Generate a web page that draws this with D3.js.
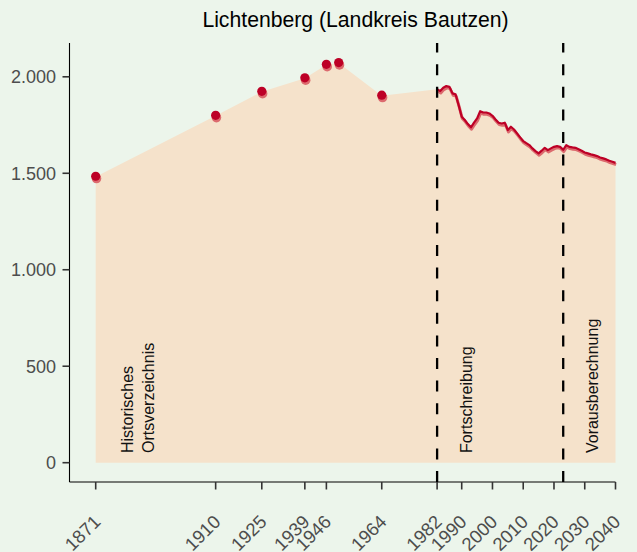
<!DOCTYPE html>
<html>
<head>
<meta charset="utf-8">
<script src="https://cdn.jsdelivr.net/npm/d3@7"></script>
<style>
    body { margin: 0; background: #ecf5eb; }
    #chart-area { width: 637px; height: 552px; }
    text { font-family: "Liberation Sans", Arial, Helvetica, sans-serif; }
</style>
</head>
<body>
<div id="chart-area"></div>
<script>

// Historical census (Historisches Ortsverzeichnis)
var histYears = [1871, 1910, 1925, 1939, 1946, 1950, 1964];
var histValues = [1482, 1798, 1922, 1992, 2062, 2071, 1902];

// Yearly update (Fortschreibung) and projection (Vorausberechnung)
var annualYears = [1982, 1983, 1984, 1985, 1986, 1987, 1988, 1989, 1990, 1991,
    1992, 1993, 1994, 1995, 1996, 1997, 1998, 1999, 2000, 2001,
    2002, 2003, 2004, 2005, 2006, 2007, 2008, 2009, 2010, 2011,
    2012, 2013, 2014, 2015, 2016, 2017, 2018, 2019, 2020, 2021,
    2022, 2023, 2024, 2025, 2026, 2027, 2028, 2029, 2030, 2031,
    2032, 2033, 2034, 2035, 2036, 2037, 2038, 2039, 2040];
var annualValues = [1936, 1926, 1943, 1952, 1948, 1914, 1909, 1853, 1793, 1776,
    1755, 1738, 1762, 1784, 1822, 1815, 1815, 1810, 1798, 1779,
    1762, 1758, 1762, 1724, 1741, 1727, 1707, 1686, 1667, 1656,
    1646, 1629, 1615, 1603, 1617, 1632, 1620, 1629, 1637, 1641,
    1637, 1622, 1646, 1637, 1634, 1632, 1625, 1617, 1608, 1603,
    1598, 1594, 1589, 1582, 1577, 1572, 1565, 1560, 1554];

// Axis ticks
var xTickYears = [1871, 1910, 1925, 1939, 1946, 1964, 1982, 1990, 2000, 2010, 2020, 2030, 2040];
var yTickValues = [0, 500, 1000, 1500, 2000];

// Source sections
var sectionYears = [1871, 1982, 2023];
var sectionLabels = [["Historisches", "Ortsverzeichnis"], ["Fortschreibung"], ["Vorausberechnung"]];
var dividerYears = [1982, 2023];

var chartTitle = "Lichtenberg (Landkreis Bautzen)";


PopVis = function(_parentElement) {
    this.parentElement = _parentElement;
    this.displayData = [];

    this.initVis();
};

/* INITIALIZE VISUALIZATION */
PopVis.prototype.initVis = function() {
    var vis = this;

    vis.width = 637;
    vis.height = 552;

    vis.svg = d3.select("#" + vis.parentElement).append("svg")
        .attr("width", vis.width)
        .attr("height", vis.height);

    // Scales
    vis.x = d3.scaleLinear()
        .domain([1871, 2040])
        .range([95.7, 615.5]);

    vis.y = d3.scaleLinear()
        .domain([0, 2000])
        .range([462.7, 76.8]);

    vis.panelLeft = 69.5;
    vis.panelTop = vis.y(2175);
    vis.panelBottom = vis.y(-100);

    vis.de = d3.formatLocale({ decimal: ",", thousands: ".", grouping: [3], currency: ["", " €"] });

    vis.wrangleData();
};

PopVis.prototype.wrangleData = function() {
    var vis = this;

    vis.histData = histYears.map(function(d, i) {
        return { year: d, value: histValues[i] };
    });
    vis.annualData = annualYears.map(function(d, i) {
        return { year: d, value: annualValues[i] };
    });
    vis.displayData = vis.histData.concat(vis.annualData);

    vis.updateVis();
};

PopVis.prototype.updateVis = function() {
    var vis = this;

    // Area under everything
    var area = d3.area()
        .x(function(d) { return vis.x(d.year); })
        .y0(vis.y(0))
        .y1(function(d) { return vis.y(d.value); });

    vis.svg.append("path")
        .datum(vis.displayData)
        .attr("fill", "#f5e2cb")
        .attr("d", area);

    // Annual line with a soft shadow
    var line = d3.line()
        .x(function(d) { return vis.x(d.year); })
        .y(function(d) { return vis.y(d.value); });

    vis.svg.append("path")
        .datum(vis.annualData)
        .attr("fill", "none")
        .attr("stroke", "#dc6a6e")
        .attr("stroke-width", 3)
        .attr("stroke-linejoin", "round")
        .attr("transform", "translate(0.6,1.8)")
        .attr("d", line);

    vis.svg.append("path")
        .datum(vis.annualData)
        .attr("fill", "none")
        .attr("stroke", "#bd0026")
        .attr("stroke-width", 2.2)
        .attr("stroke-linejoin", "round")
        .attr("d", line);

    // Census points
    var pts = vis.svg.append("g").selectAll("g")
        .data(vis.histData)
        .enter().append("g")
        .attr("transform", function(d) {
            return "translate(" + vis.x(d.year) + "," + vis.y(d.value) + ")";
        });
    pts.append("circle")
        .attr("cx", 0.8).attr("cy", 1.8).attr("r", 4.8)
        .attr("fill", "#dc6a6e");
    pts.append("circle")
        .attr("cx", 0).attr("cy", -0.5).attr("r", 4.6)
        .attr("fill", "#bd0026");

    // Dashed dividers, drawn from the bottom up
    vis.svg.selectAll(".divider")
        .data(dividerYears)
        .enter().append("line")
        .attr("class", "divider")
        .attr("x1", function(d) { return vis.x(d); })
        .attr("x2", function(d) { return vis.x(d); })
        .attr("y1", vis.panelBottom)
        .attr("y2", vis.panelTop)
        .attr("stroke", "#000")
        .attr("stroke-width", 2.3)
        .attr("stroke-dasharray", "11,11.6");

    // Section labels (vertical)
    sectionYears.forEach(function(yr, i) {
        var lines = sectionLabels[i];
        var dx = lines.length > 1 ? 37.5 : 34.5;
        lines.forEach(function(txt, j) {
            var px = vis.x(yr) + dx + j * 20.6,
                py = vis.y(50);
            vis.svg.append("text")
                .attr("transform", "translate(" + px + "," + py + ") rotate(-90)")
                .attr("text-anchor", "start")
                .attr("font-size", "16px")
                .attr("fill", "#111")
                .text(txt);
        });
    });

    // Y axis
    vis.svg.append("line")
        .attr("x1", vis.panelLeft).attr("x2", vis.panelLeft)
        .attr("y1", vis.panelTop).attr("y2", vis.panelBottom)
        .attr("stroke", "#000").attr("stroke-width", 1.1);

    var yt = vis.svg.append("g").selectAll("g")
        .data(yTickValues)
        .enter().append("g")
        .attr("transform", function(d) { return "translate(0," + vis.y(d) + ")"; });
    yt.append("line")
        .attr("x1", vis.panelLeft - 7).attr("x2", vis.panelLeft)
        .attr("stroke", "#333").attr("stroke-width", 1.6);
    yt.append("text")
        .attr("x", vis.panelLeft - 13.5)
        .attr("dy", "0.35em")
        .attr("text-anchor", "end")
        .attr("font-size", "18px")
        .attr("fill", "#4d4d4d")
        .text(function(d) { return vis.de.format(",")(d); });

    // X axis
    vis.svg.append("line")
        .attr("x1", vis.panelLeft).attr("x2", vis.x(2040))
        .attr("y1", vis.panelBottom).attr("y2", vis.panelBottom)
        .attr("stroke", "#000").attr("stroke-width", 1.1);

    var xt = vis.svg.append("g").selectAll("g")
        .data(xTickYears)
        .enter().append("g")
        .attr("transform", function(d) { return "translate(" + vis.x(d) + "," + vis.panelBottom + ")"; });
    xt.append("line")
        .attr("y1", 0).attr("y2", 7.5)
        .attr("stroke", "#333").attr("stroke-width", 1.6);
    xt.append("text")
        .attr("transform", "translate(6,41) rotate(-45)")
        .attr("text-anchor", "end")
        .attr("font-size", "18.5px")
        .attr("fill", "#4d4d4d")
        .text(function(d) { return d; });

    // Title
    vis.svg.append("text")
        .attr("x", 355.5)
        .attr("y", 26.5)
        .attr("text-anchor", "middle")
        .attr("font-size", "21.2px")
        .attr("fill", "#000")
        .text(chartTitle);
};

var popVis = new PopVis("chart-area");
</script>
</body>
</html>
